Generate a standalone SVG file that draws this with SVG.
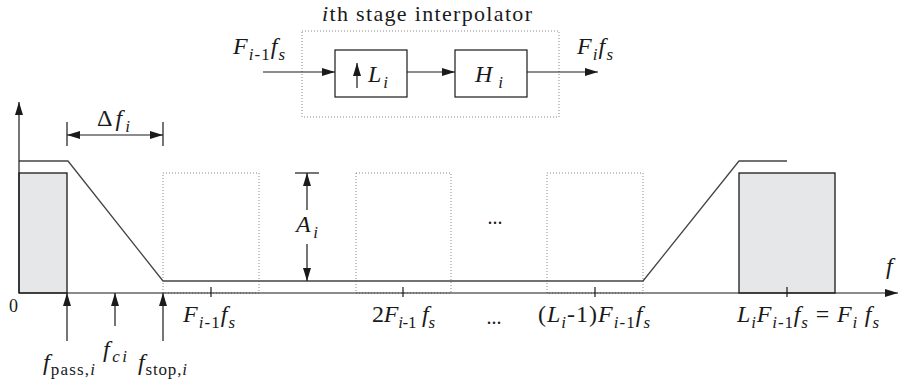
<svg xmlns="http://www.w3.org/2000/svg" width="899" height="383" viewBox="0 0 899 383">
<style>
.ln{stroke:#1a1a1a;stroke-width:1.2;fill:none}
.flt{stroke:#444;stroke-width:1.3;fill:none}
.dot{stroke:#888;stroke-width:1;stroke-dasharray:1,2;fill:none}
.box{stroke:#1a1a1a;stroke-width:1.2;fill:#fff}
.band{stroke:#1a1a1a;stroke-width:1.3;fill:#e6e7e8}
</style>
<defs>
<marker id="ah" markerUnits="userSpaceOnUse" markerWidth="14" markerHeight="10" refX="13" refY="5" orient="auto">
<path d="M0,1 L13,5 L0,9 Z" fill="#1a1a1a"/>
</marker>
</defs>
<g id="stage">
<rect class="dot" x="302" y="31" width="257" height="86"/>
<text style="font-family:'Liberation Serif',serif" fill="#1a1a1a" x="322" y="21" font-size="22" textLength="210"><tspan font-style="italic">i</tspan>th stage interpolator</text>
</g>
<g id="upsampler">
<rect class="box" x="335" y="50" width="72" height="47"/>
<line class="ln" x1="357" y1="88" x2="357" y2="63" marker-end="url(#ah)"/>
<text style="font-family:'Liberation Serif',serif" fill="#1a1a1a" font-size="24" font-style="italic" x="368" y="82" textLength="20">L<tspan font-size="17" dy="6">i</tspan></text>
</g>
<g id="filter">
<rect class="box" x="455" y="50" width="72" height="47"/>
<text style="font-family:'Liberation Serif',serif" fill="#1a1a1a" font-size="24" font-style="italic" x="475" y="82" textLength="28">H<tspan font-size="17" dy="6">i</tspan></text>
</g>
<g id="connectors">
<line class="ln" x1="263" y1="72" x2="335" y2="72" marker-end="url(#ah)"/>
<line class="ln" x1="407" y1="72" x2="455" y2="72" marker-end="url(#ah)"/>
<line class="ln" x1="527" y1="72" x2="598" y2="72" marker-end="url(#ah)"/>
</g>
<g id="io-labels">
<text style="font-family:'Liberation Serif',serif" fill="#1a1a1a" font-size="24" font-style="italic" x="233" y="54" textLength="52">F<tspan font-size="17" dy="6">i</tspan><tspan font-size="17" font-style="normal">-1</tspan><tspan dy="-6">f</tspan><tspan font-size="17" dy="6">s</tspan></text>
<text style="font-family:'Liberation Serif',serif" fill="#1a1a1a" font-size="24" font-style="italic" x="577" y="54" textLength="36">F<tspan font-size="17" dy="6">i</tspan><tspan dy="-6">f</tspan><tspan font-size="17" dy="6">s</tspan></text>
</g>
<g id="spectrum">
<rect class="band" x="19" y="173" width="48" height="120"/>
<rect class="band" x="739" y="173" width="96" height="120"/>
<rect class="dot" x="163" y="173" width="96" height="120"/>
<rect class="dot" x="356" y="173" width="95" height="120"/>
<rect class="dot" x="547" y="173" width="96" height="120"/>
<polyline class="flt" points="19,161 68,161 163,281 643,281 739,161 787,161"/>
<line class="ln" x1="19" y1="293" x2="19" y2="102" marker-end="url(#ah)"/>
<line class="ln" x1="19" y1="293" x2="898" y2="293" marker-end="url(#ah)"/>
<line class="ln" x1="211" y1="287" x2="211" y2="297"/>
<line class="ln" x1="403" y1="287" x2="403" y2="297"/>
<line class="ln" x1="595" y1="287" x2="595" y2="297"/>
<line class="ln" x1="787" y1="287" x2="787" y2="297"/>
<line class="ln" x1="67" y1="122" x2="67" y2="146"/>
<line class="ln" x1="163" y1="122" x2="163" y2="146"/>
<line class="ln" x1="115" y1="135" x2="67" y2="135" marker-end="url(#ah)"/>
<line class="ln" x1="115" y1="135" x2="163" y2="135" marker-end="url(#ah)"/>
<line class="ln" x1="295" y1="173" x2="319" y2="173"/>
<line class="ln" x1="307" y1="210" x2="307" y2="173" marker-end="url(#ah)"/>
<line class="ln" x1="307" y1="244" x2="307" y2="281" marker-end="url(#ah)"/>
<line class="ln" x1="67" y1="341" x2="67" y2="293" marker-end="url(#ah)"/>
<line class="ln" x1="115" y1="326" x2="115" y2="293" marker-end="url(#ah)"/>
<line class="ln" x1="163" y1="341" x2="163" y2="293" marker-end="url(#ah)"/>
</g>
<g id="labels">
<text style="font-family:'Liberation Serif',serif" fill="#1a1a1a" font-size="24" font-style="italic" x="97" y="126" textLength="33"><tspan font-style="normal">Δ</tspan>f<tspan font-size="17" dy="6">i</tspan></text>
<text style="font-family:'Liberation Serif',serif" fill="#1a1a1a" font-size="24" font-style="italic" x="296" y="232" textLength="22">A<tspan font-size="17" dy="6">i</tspan></text>
<text style="font-family:'Liberation Serif',serif" fill="#1a1a1a" x="495" y="224" font-size="20" text-anchor="middle">...</text>
<text style="font-family:'Liberation Serif',serif" fill="#1a1a1a" x="9" y="312" font-size="18">0</text>
<text style="font-family:'Liberation Serif',serif" fill="#1a1a1a" font-size="24" font-style="italic" x="886" y="274">f</text>
<text style="font-family:'Liberation Serif',serif" fill="#1a1a1a" font-size="24" font-style="italic" x="43" y="370" textLength="52">f<tspan font-size="17" font-style="normal" dy="5">pass,</tspan><tspan font-size="17">i</tspan></text>
<text style="font-family:'Liberation Serif',serif" fill="#1a1a1a" font-size="24" font-style="italic" x="103" y="357" textLength="24">f<tspan font-size="17" dy="5">ci</tspan></text>
<text style="font-family:'Liberation Serif',serif" fill="#1a1a1a" font-size="24" font-style="italic" x="138" y="370" textLength="49">f<tspan font-size="17" font-style="normal" dy="5">stop,</tspan><tspan font-size="17">i</tspan></text>
<text style="font-family:'Liberation Serif',serif" fill="#1a1a1a" font-size="24" font-style="italic" x="183" y="322" textLength="52">F<tspan font-size="17" dy="6">i</tspan><tspan font-size="17" font-style="normal">-1</tspan><tspan dy="-6">f</tspan><tspan font-size="17" dy="6">s</tspan></text>
<text style="font-family:'Liberation Serif',serif" fill="#1a1a1a" font-size="24" font-style="italic" x="372" y="322" textLength="63"><tspan font-style="normal">2</tspan>F<tspan font-size="17" dy="6">i</tspan><tspan font-size="17" font-style="normal">-1</tspan><tspan dy="-6"> f</tspan><tspan font-size="17" dy="6">s</tspan></text>
<text style="font-family:'Liberation Serif',serif" fill="#1a1a1a" x="494" y="324" font-size="20" text-anchor="middle">...</text>
<text style="font-family:'Liberation Serif',serif" fill="#1a1a1a" font-size="24" font-style="italic" x="538" y="322" textLength="112"><tspan font-style="normal">(</tspan>L<tspan font-size="17" dy="6">i</tspan><tspan font-style="normal" dy="-6">-1)</tspan>F<tspan font-size="17" dy="6">i</tspan><tspan font-size="17" font-style="normal">-1</tspan><tspan dy="-6">f</tspan><tspan font-size="17" dy="6">s</tspan></text>
<text style="font-family:'Liberation Serif',serif" fill="#1a1a1a" font-size="24" font-style="italic" x="737" y="322" textLength="142">L<tspan font-size="17" dy="6">i</tspan><tspan dy="-6">F</tspan><tspan font-size="17" dy="6">i</tspan><tspan font-size="17" font-style="normal">-1</tspan><tspan dy="-6">f</tspan><tspan font-size="17" dy="6">s</tspan><tspan font-style="normal" dy="-6"> = </tspan>F<tspan font-size="17" dy="6">i</tspan><tspan dy="-6"> f</tspan><tspan font-size="17" dy="6">s</tspan></text>
</g>
</svg>
